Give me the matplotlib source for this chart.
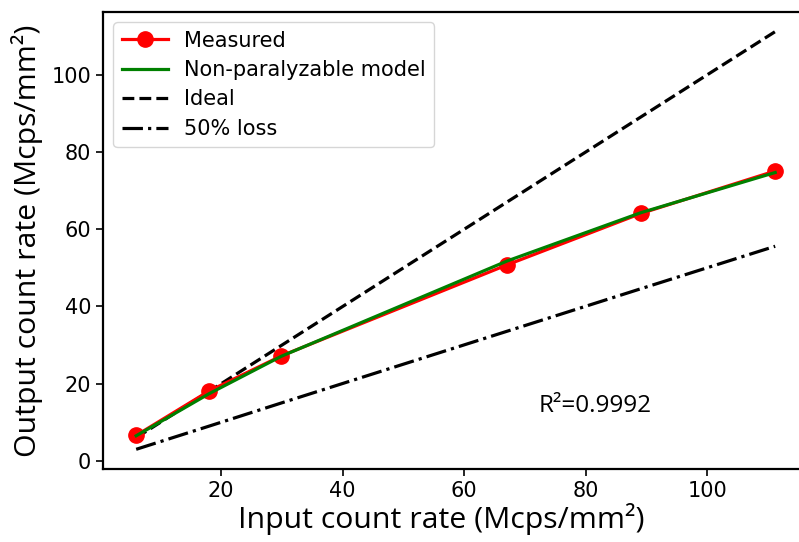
import matplotlib
matplotlib.use("Agg")
import matplotlib.pyplot as plt

# Data
input_rate = [6.0, 18.0, 29.9, 67.1, 89.1, 111.2]
measured = [6.6, 18.1, 27.2, 50.8, 64.1, 75.1]
model = [6.5, 17.4, 27.1, 51.8, 64.3, 74.7]
ideal = [6.0, 18.0, 29.9, 67.1, 89.1, 111.2]
loss50 = [3.0, 9.0, 15.0, 33.6, 44.6, 55.6]

fig = plt.figure(figsize=(7.99, 5.42), dpi=100)
ax = fig.add_axes([0.129, 0.134, 0.883, 0.844])

ax.plot(input_rate, measured, color='red', lw=2.3, marker='o', markersize=11, label='Measured', zorder=3)
ax.plot(input_rate, model, color='green', lw=2.3, label='Non-paralyzable model', zorder=4)
ax.plot(input_rate, ideal, color='black', lw=2.3, ls='--', label='Ideal')
ax.plot(input_rate, loss50, color='black', lw=2.3, ls='-.', label='50% loss')

ax.set_xlim(0.55, 116.7)
ax.set_ylim(-2.2, 116.3)
ax.set_xticks([20, 40, 60, 80, 100])
ax.set_yticks([0, 20, 40, 60, 80, 100])
ax.tick_params(labelsize=15, length=5, width=1.2)
for s in ax.spines.values():
    s.set_linewidth(1.6)

lab_font = dict(family=['Open Sans', 'DejaVu Sans'], fontsize=21.8)
ax.set_xlabel('Input count rate (Mcps/mm²)', **lab_font, labelpad=1, x=0.479)
ax.set_ylabel('Output count rate (Mcps/mm²)', **lab_font, labelpad=6)

ax.text(72.3, 14.3, 'R²=0.9992', family=['Open Sans', 'DejaVu Sans'], fontsize=17.5, va='center', ha='left')

leg = ax.legend(loc='upper left', fontsize=15, handlelength=2.2, borderaxespad=0.5,
                labelspacing=0.45, borderpad=0.4)
leg.get_frame().set_linewidth(1.0)

fig.savefig('out.png', dpi=100)
